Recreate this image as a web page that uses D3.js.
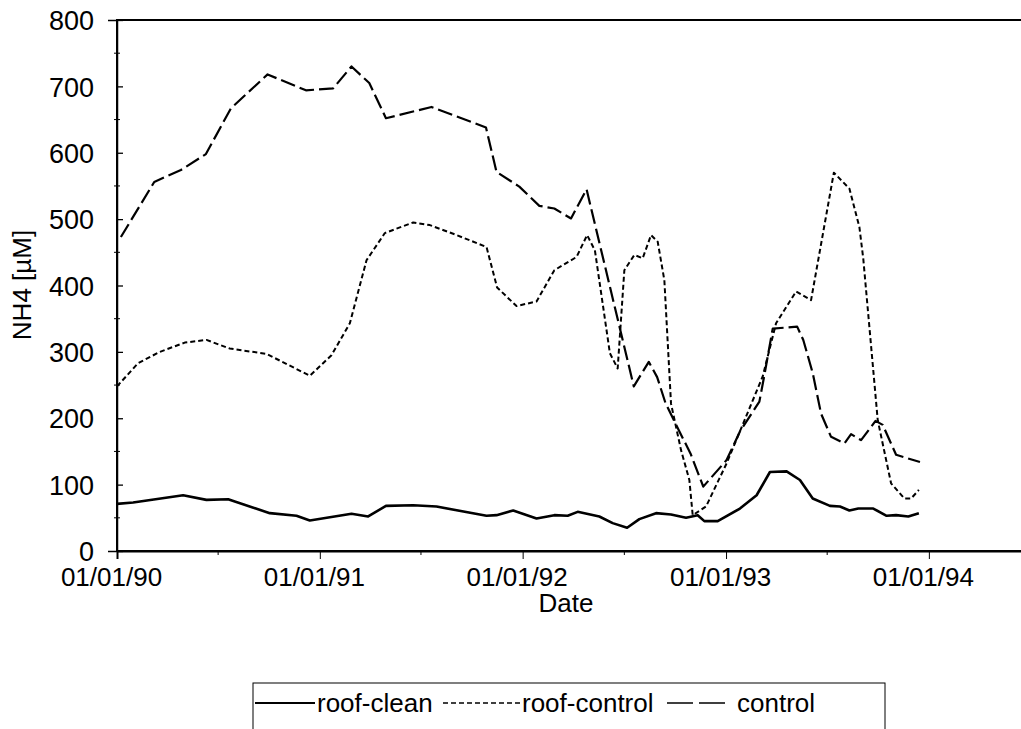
<!DOCTYPE html>
<meta charset="utf-8"/>
<style>
  body { margin: 0; background: #fff; }
  text { font-family: "Liberation Sans", Arial, sans-serif; fill: #000; }
  .axis path, .axis line { stroke: #000; }
</style>
<svg width="1021" height="729"></svg>
<script src="https://d3js.org/d3.v7.min.js"></script>
<script>

  // values: [date, NH4 in uM]
  var roofClean = [
    ["1990-01-01", 71], ["1990-01-30", 73], ["1990-04-30", 84], ["1990-06-11", 77],
    ["1990-07-20", 78], ["1990-10-03", 57], ["1990-11-20", 53], ["1990-12-14", 46],
    ["1991-02-27", 56], ["1991-03-29", 52], ["1991-04-30", 68], ["1991-06-18", 69],
    ["1991-07-30", 67], ["1991-10-28", 53], ["1991-11-15", 54], ["1991-12-15", 61],
    ["1992-01-26", 49], ["1992-02-27", 54], ["1992-03-22", 53], ["1992-04-09", 59],
    ["1992-05-18", 52], ["1992-06-11", 42], ["1992-07-07", 35], ["1992-07-29", 48],
    ["1992-08-28", 57], ["1992-09-24", 55], ["1992-10-21", 50], ["1992-11-11", 54],
    ["1992-11-23", 45], ["1992-12-17", 45], ["1993-01-26", 64], ["1993-02-25", 84],
    ["1993-03-21", 119], ["1993-04-20", 120], ["1993-05-14", 107], ["1993-06-06", 79],
    ["1993-07-07", 68], ["1993-07-25", 67], ["1993-08-11", 61], ["1993-08-27", 64],
    ["1993-09-23", 64], ["1993-10-17", 53], ["1993-11-03", 54], ["1993-11-25", 52],
    ["1993-12-14", 57]
  ];

  var roofControl = [
    ["1990-01-01", 248], ["1990-02-08", 283], ["1990-03-19", 300], ["1990-05-03", 314],
    ["1990-06-11", 318], ["1990-07-23", 305], ["1990-09-27", 297], ["1990-12-14", 264],
    ["1991-01-22", 295], ["1991-02-24", 343], ["1991-03-26", 438], ["1991-04-28", 479],
    ["1991-06-18", 495], ["1991-07-18", 491], ["1991-09-04", 476], ["1991-10-28", 458],
    ["1991-11-16", 397], ["1991-12-21", 369], ["1992-01-26", 376], ["1992-02-27", 423],
    ["1992-04-07", 443], ["1992-04-26", 476], ["1992-05-10", 453], ["1992-06-06", 298],
    ["1992-06-20", 275], ["1992-07-02", 423], ["1992-07-20", 446], ["1992-08-04", 441],
    ["1992-08-19", 476], ["1992-08-31", 466], ["1992-09-12", 408], ["1992-09-24", 222],
    ["1992-10-12", 152], ["1992-10-27", 107], ["1992-11-02", 54], ["1992-11-26", 67],
    ["1993-01-02", 132], ["1993-03-08", 263], ["1993-04-01", 343], ["1993-05-07", 391],
    ["1993-06-03", 378], ["1993-07-14", 570], ["1993-08-11", 546], ["1993-08-29", 488],
    ["1993-09-05", 440], ["1993-10-01", 197], ["1993-10-25", 102], ["1993-11-18", 79],
    ["1993-11-30", 79], ["1993-12-14", 92]
  ];

  var control = [
    ["1990-01-08", 473], ["1990-03-09", 556], ["1990-04-26", 574], ["1990-06-10", 598],
    ["1990-07-25", 667], ["1990-09-29", 718], ["1990-12-07", 694], ["1991-01-25", 697],
    ["1991-02-27", 730], ["1991-03-31", 705], ["1991-04-30", 652], ["1991-07-21", 669],
    ["1991-10-27", 638], ["1991-11-15", 571], ["1991-12-26", 549], ["1992-01-31", 520],
    ["1992-02-27", 516], ["1992-03-28", 501], ["1992-04-25", 545], ["1992-07-19", 248],
    ["1992-08-15", 285], ["1992-08-30", 262], ["1992-09-14", 223], ["1992-10-08", 182],
    ["1992-10-29", 147], ["1992-11-21", 97], ["1993-01-02", 137], ["1993-01-26", 180],
    ["1993-03-02", 225], ["1993-03-11", 265], ["1993-03-26", 335], ["1993-05-09", 338],
    ["1993-05-20", 318], ["1993-06-06", 268], ["1993-06-21", 207], ["1993-07-09", 172],
    ["1993-08-02", 162], ["1993-08-14", 176], ["1993-09-01", 167], ["1993-09-27", 196],
    ["1993-10-10", 190], ["1993-11-03", 145], ["1993-12-16", 134]
  ];

  var seriesNames = ["roof-clean", "roof-control", "control"];
  var yTicks = [0, 100, 200, 300, 400, 500, 600, 700, 800];
  var yMinorTicks = [50, 150, 250, 350, 450, 550, 650, 750];
  var xTicks = ["1990-01-01", "1991-01-01", "1992-01-01", "1993-01-01", "1994-01-01"];
  var xMinorTicks = ["1990-07-02", "1991-07-02", "1992-07-02", "1993-07-02"];

  var parse = d3.timeParse("%Y-%m-%d");
  var fmt = d3.timeFormat("%d/%m/%y");

  var svg = d3.select("svg"),
    plotLeft = 117, plotTop = 20, plotRight = 1025, plotBottom = 551;

  var x = d3.scaleTime()
    .domain([parse("1990-01-01"), parse("1994-06-23")])
    .range([plotLeft, plotRight]);

  var y = d3.scaleLinear()
    .domain([0, 800])
    .range([plotBottom, plotTop]);

  // plot frame (runs off the right edge like the original)
  svg.append("rect")
    .attr("x", plotLeft).attr("y", plotTop)
    .attr("width", plotRight - plotLeft + 20).attr("height", plotBottom - plotTop)
    .attr("fill", "none").attr("stroke", "#000").attr("stroke-width", 2);

  // y axis, ticks crossing the line
  var yAxis = svg.append("g")
    .attr("class", "axis")
    .attr("transform", "translate(" + plotLeft + ",0)")
    .call(d3.axisLeft(y).tickValues(yTicks).tickSize(9).tickPadding(14));
  yAxis.select(".domain").attr("stroke-width", 1.5);
  yAxis.selectAll(".tick line").attr("x2", 6).attr("stroke-width", 1.3);
  yAxis.selectAll(".tick text").attr("font-size", 27).attr("dy", "0.36em");

  yAxis.selectAll(".minor")
    .data(yMinorTicks)
    .enter().append("line")
    .attr("x1", -3).attr("x2", 3)
    .attr("y1", function (d) { return y(d); })
    .attr("y2", function (d) { return y(d); })
    .attr("stroke", "#000").attr("stroke-width", 1);

  // x axis at zero
  var xAxis = svg.append("g")
    .attr("class", "axis")
    .attr("transform", "translate(0," + plotBottom + ")")
    .call(d3.axisBottom(x).tickValues(xTicks.map(parse)).tickFormat(fmt).tickSize(8).tickPadding(9));
  xAxis.select(".domain").attr("stroke-width", 2);
  xAxis.selectAll(".tick line").attr("stroke-width", 1);
  xAxis.selectAll(".tick text").attr("font-size", 26).attr("dx", -6);

  xAxis.selectAll(".minor")
    .data(xMinorTicks)
    .enter().append("line")
    .attr("x1", function (d) { return x(parse(d)); })
    .attr("x2", function (d) { return x(parse(d)); })
    .attr("y1", 0).attr("y2", 4)
    .attr("stroke", "#000").attr("stroke-width", 1);

  // axis titles
  svg.append("text")
    .attr("x", 566).attr("y", 612)
    .attr("text-anchor", "middle")
    .attr("font-size", 26)
    .text("Date");

  svg.append("text")
    .attr("transform", "translate(31,285) rotate(-90)")
    .attr("text-anchor", "middle")
    .attr("font-size", 26)
    .text("NH4 [\u00b5M]");

  // the three series
  var line = d3.line()
    .x(function (d) { return x(parse(d[0])); })
    .y(function (d) { return y(d[1]); });

  var styles = [
    { data: roofClean, width: 2.6, dash: null },
    { data: roofControl, width: 2, dash: "5,3" },
    { data: control, width: 2.2, dash: "15,5" }
  ];

  svg.append("g")
    .selectAll("path")
    .data(styles)
    .enter().append("path")
    .attr("d", function (d) { return line(d.data); })
    .attr("fill", "none")
    .attr("stroke", "#000")
    .attr("stroke-width", function (d) { return d.width; })
    .attr("stroke-linejoin", "round")
    .attr("stroke-dasharray", function (d) { return d.dash; });

  // legend box, cut by the bottom edge
  var legend = svg.append("g");
  legend.append("rect")
    .attr("x", 253).attr("y", 683)
    .attr("width", 632).attr("height", 80)
    .attr("fill", "none").attr("stroke", "#000").attr("stroke-width", 1);

  var legendItems = [
    { x1: 255, x2: 315, tx: 317, dash: null, width: 2 },
    { x1: 443, x2: 520, tx: 522, dash: "5,3", width: 1.6 },
    { x1: 667, x2: 731, tx: 737, dash: "26,6", width: 1.6 }
  ];

  legendItems.forEach(function (it, i) {
    legend.append("line")
      .attr("x1", it.x1).attr("x2", it.x2)
      .attr("y1", 703).attr("y2", 703)
      .attr("stroke", "#000")
      .attr("stroke-width", it.width)
      .attr("stroke-dasharray", it.dash);
    legend.append("text")
      .attr("x", it.tx).attr("y", 712)
      .attr("font-size", 26)
      .text(seriesNames[i]);
  });

</script>
